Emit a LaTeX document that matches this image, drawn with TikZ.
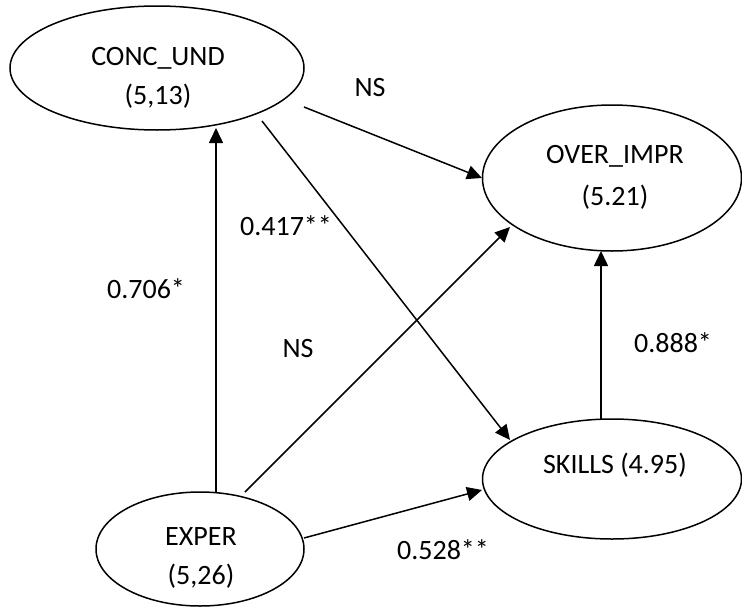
\documentclass[tikz,border=0pt]{standalone}
\usepackage{fontspec}
\setmainfont{Carlito}
\usetikzlibrary{shapes.geometric,arrows.meta,calc}
\begin{document}
\begin{tikzpicture}[x=1pt,y=-1pt,
  oval/.style={draw, ellipse, line width=1.5pt, inner sep=0pt},
  lbl/.style={anchor=base, font=\fontsize{28}{34}\selectfont, inner sep=0pt},
  arr/.style={line width=1.5pt, -{Triangle[length=15pt,width=14pt]}}]
\useasboundingbox (0,0) rectangle (742,608);
% ellipses
\node[oval, minimum width=294pt, minimum height=124pt] (conc) at (157,68) {};
\node[oval, minimum width=259pt, minimum height=146pt] (over) at (612,178) {};
\node[oval, minimum width=259pt, minimum height=120pt] (skills) at (612,479) {};
\node[oval, minimum width=208pt, minimum height=114pt] (exper) at (200,549) {};
% texts inside
\node[lbl] (concA) at (158,65) {CONC\_UND};
\node[lbl] (concB) at (158,104) {(5,13)};
\node[lbl] (overA) at (615,163) {OVER\_IMPR};
\node[lbl] (overB) at (615,205) {(5.21)};
\node[lbl] (skillsA) at (615,473) {SKILLS (4.95)};
\node[lbl] (experA) at (201,545) {EXPER};
\node[lbl] (experB) at (201,584) {(5,26)};
% connectors
\draw[arr] ($(exper)+(16,-57)$) -- ($(conc)+(59,60)$);
\draw[arr] ($(exper)+(45,-57)$) -- ($(over)+(-102,49)$);
\draw[arr] ($(exper)+(104,-11)$) -- ($(skills)+(-130,11)$);
\draw[arr] ($(conc)+(147,39)$) -- ($(over)+(-130,0)$);
\draw[arr] ($(conc)+(105,53)$) -- ($(skills)+(-102,-39)$);
\draw[arr] ($(skills)+(-11,-60)$) -- ($(over)+(-11,73)$);
% edge labels
\node[lbl] (l1) at (370,96) {NS};
\node[lbl] (l2) at (286,235) {0.417**};
\node[lbl] (l3) at (146,298) {0.706*};
\node[lbl] (l4) at (298,357) {NS};
\node[lbl] (l5) at (673,352) {0.888*};
\node[lbl] (l6) at (443,559) {0.528**};
\end{tikzpicture}
\end{document}
